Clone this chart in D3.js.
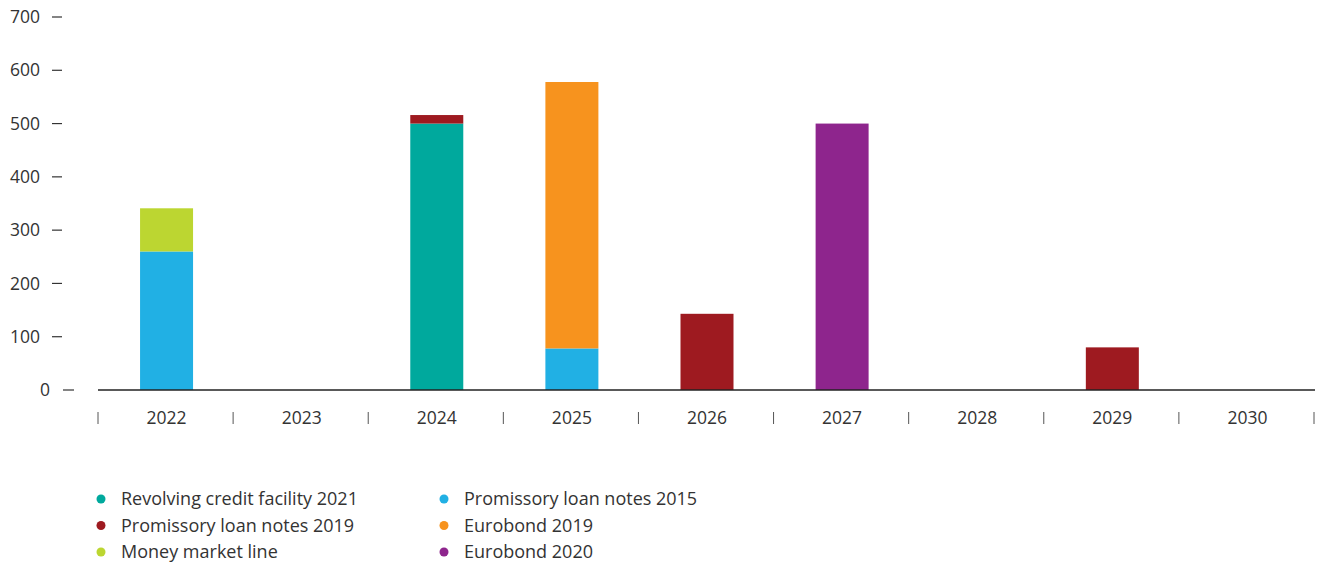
<!DOCTYPE html>
<html>
<head>
<meta charset="utf-8">
<script src="https://cdn.jsdelivr.net/npm/d3@7"></script>
<style>
  body { margin: 0; background: #fff; }
  text { font-family: "Open Sans", sans-serif; fill: #333; }
</style>
</head>
<body>
<div id="chart"></div>
<script>
// categories and series (EUR m)
var years = ["2022", "2023", "2024", "2025", "2026", "2027", "2028", "2029", "2030"];
var seriesNames = ["Promissory loan notes 2015", "Revolving credit facility 2021", "Money market line",
  "Eurobond 2019", "Promissory loan notes 2019", "Eurobond 2020"];
var plnotes2015 = [260, 0, 0, 78, 0, 0, 0, 0, 0];
var rcf2021 = [0, 0, 500, 0, 0, 0, 0, 0, 0];
var moneyMarket = [81, 0, 0, 0, 0, 0, 0, 0, 0];
var eurobond2019 = [0, 0, 0, 500, 0, 0, 0, 0, 0];
var plnotes2019 = [0, 0, 16, 0, 143, 0, 0, 80, 0];
var eurobond2020 = [0, 0, 0, 0, 0, 500, 0, 0, 0];
var yTicks = [0, 100, 200, 300, 400, 500, 600, 700];
var legendOrder = ["Revolving credit facility 2021", "Promissory loan notes 2015",
  "Promissory loan notes 2019", "Eurobond 2019", "Money market line", "Eurobond 2020"];

var colors = {
  "Revolving credit facility 2021": "#00a99d",
  "Promissory loan notes 2015": "#21b0e4",
  "Promissory loan notes 2019": "#9e1a20",
  "Eurobond 2019": "#f7931e",
  "Money market line": "#bcd631",
  "Eurobond 2020": "#8e258d"
};

var values = [plnotes2015, rcf2021, moneyMarket, eurobond2019, plnotes2019, eurobond2020];
var table = years.map(function(y, i) {
  var row = {year: y};
  seriesNames.forEach(function(s, k) { row[s] = values[k][i]; });
  return row;
});

var w = 1323, h = 564;
var svg = d3.select("#chart").append("svg").attr("width", w).attr("height", h);

var x = d3.scaleBand().domain(years).range([98, 1314]).paddingInner(0).paddingOuter(0);
var y = d3.scaleLinear().domain([0, 700]).range([390, 17]);

var stack = d3.stack().keys(seriesNames)(table);

// bars
var barW = 53;
svg.append("g").selectAll("g").data(stack).enter().append("g")
  .attr("fill", function(d) { return colors[d.key]; })
  .selectAll("rect").data(function(d) { return d; }).enter().append("rect")
  .filter(function(d) { return d[1] - d[0] > 0; })
  .attr("x", function(d) { return x(d.data.year) + x.bandwidth() / 2 - barW / 2 + 1; })
  .attr("y", function(d) { return y(d[1]); })
  .attr("width", barW)
  .attr("height", function(d) { return y(d[0]) - y(d[1]); });

// baseline
svg.append("line")
  .attr("x1", 98).attr("x2", 1315)
  .attr("y1", y(0)).attr("y2", y(0))
  .attr("stroke", "#222").attr("stroke-width", 1.3);

// y axis: labels with short dashes
var yg = svg.append("g");
yg.selectAll("text").data(yTicks).enter().append("text")
  .attr("x", function(d) { return d === 0 ? 50 : 40; })
  .attr("y", function(d) { return y(d); })
  .attr("dy", "0.35em")
  .attr("text-anchor", "end")
  .style("font-size", "17.5px")
  .text(function(d) { return d; });
yg.selectAll("line").data(yTicks).enter().append("line")
  .attr("x1", function(d) { return d === 0 ? 63 : 52; })
  .attr("x2", function(d) { return d === 0 ? 74 : 62; })
  .attr("y1", function(d) { return y(d); })
  .attr("y2", function(d) { return y(d); })
  .attr("stroke", "#333").attr("stroke-width", 1.2);

// x axis: separators between categories
var xAxis = d3.axisBottom(x).tickSize(0).tickPadding(0);
var xg = svg.append("g").attr("transform", "translate(0,418)").call(xAxis);
xg.select(".domain").remove();
xg.selectAll("text").attr("dy", "0.35em").style("font-size", "17.5px")
  .attr("transform", "translate(1,0)");
var seps = years.map(function(d) { return x(d); }).concat([x.range()[1]]);
svg.append("g").selectAll("line").data(seps).enter().append("line")
  .attr("x1", function(d) { return d; }).attr("x2", function(d) { return d; })
  .attr("y1", 412).attr("y2", 424)
  .attr("stroke", "#555").attr("stroke-width", 1);

// legend in two columns
var lg = svg.append("g").selectAll("g").data(legendOrder).enter().append("g")
  .attr("transform", function(d, i) {
    return "translate(" + (i % 2 === 0 ? 101 : 444) + "," + (499 + Math.floor(i / 2) * 26.5) + ")";
  });
lg.append("circle").attr("r", 4.5).attr("fill", function(d) { return colors[d]; });
lg.append("text").attr("x", 20).attr("dy", "0.35em")
  .style("font-size", "18px").text(function(d) { return d; });
</script>
</body>
</html>
